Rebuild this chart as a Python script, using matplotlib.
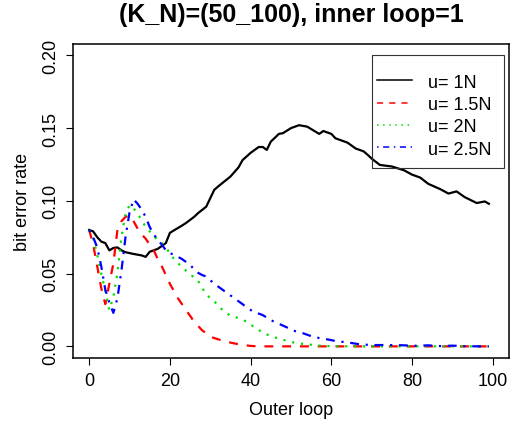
import matplotlib
matplotlib.use("Agg")
import matplotlib.pyplot as plt
from matplotlib.lines import Line2D
from matplotlib.patches import Rectangle

plt.rcParams['font.family'] = ['Liberation Sans', 'DejaVu Sans']

title = "(K_N)=(50_100), inner loop=1"
xlabel = "Outer loop"
ylabel = "bit error rate"
labels = ["u= 1N", "u= 1.5N", "u= 2N", "u= 2.5N"]
xticks = [0, 20, 40, 60, 80, 100]
yticks = [0.00, 0.05, 0.10, 0.15, 0.20]
ytick_labels = ["0.00", "0.05", "0.10", "0.15", "0.20"]

x_1n = [0, 1, 2, 3, 4, 5, 6, 7, 8, 9, 11, 13, 14, 15, 16, 17, 19, 20, 21, 23, 24,
        26, 27, 29, 31, 32, 35, 37, 38, 40, 42, 43, 44, 45, 47, 48, 50, 52, 54, 57,
        58, 60, 61, 64, 66, 68, 69, 70, 72, 75, 78, 80, 82, 84, 87, 89, 91, 93, 96, 98, 99]
y_1n = [0.080, 0.079, 0.075, 0.072, 0.071, 0.066, 0.0676, 0.068, 0.066, 0.0647, 0.0635,
        0.0625, 0.0615, 0.065, 0.066, 0.067, 0.071, 0.078, 0.0797, 0.083, 0.0848,
        0.089, 0.0916, 0.096, 0.1076, 0.110, 0.1167, 0.123, 0.128, 0.133, 0.137,
        0.137, 0.135, 0.1407, 0.146, 0.1465, 0.150, 0.152, 0.151, 0.146,
        0.148, 0.146, 0.143, 0.140, 0.136, 0.134, 0.1316, 0.129, 0.1247, 0.1236,
        0.121, 0.118, 0.116, 0.1117, 0.108, 0.105, 0.1065, 0.1026, 0.0985, 0.0996, 0.098]

x_15n = [0, 1, 2, 3, 4, 5, 6, 7, 8, 9, 10, 11, 12, 13, 14, 15, 16, 17, 18, 19, 20,
         21, 22, 23, 24, 25, 26, 27, 28, 29, 30, 32, 34, 36, 38, 40, 42, 50, 60, 70,
         80, 90, 99]
y_15n = [0.080, 0.070, 0.055, 0.040, 0.029, 0.043, 0.057, 0.080, 0.086, 0.089, 0.090,
         0.086, 0.081, 0.077, 0.074, 0.070, 0.066, 0.060, 0.055, 0.049, 0.043,
         0.038, 0.033, 0.029, 0.025, 0.021, 0.017, 0.014, 0.011, 0.009, 0.0066,
         0.0048, 0.0032, 0.002, 0.001, 0.0003, 0.0, 0.0, 0.0, 0.0,
         0.0, 0.0, 0.0]

x_2n = [0, 1, 2, 3, 4, 5, 6, 7, 8, 9, 10, 11, 12, 13, 14, 15, 16, 17, 18, 19, 20,
        21, 22, 23, 24, 25, 26, 27, 28, 29, 30, 31, 32, 33, 34, 35, 37, 39, 41, 43,
        45, 47, 50, 52, 54, 56, 59, 65, 70, 80, 90, 99]
y_2n = [0.080, 0.074, 0.063, 0.050, 0.038, 0.025, 0.034, 0.050, 0.075, 0.091, 0.097,
        0.095, 0.091, 0.087, 0.082, 0.079, 0.076, 0.073, 0.071, 0.068, 0.064,
        0.060, 0.057, 0.055, 0.052, 0.050, 0.047, 0.045, 0.040, 0.036, 0.033,
        0.031, 0.028, 0.025, 0.023, 0.021, 0.0195, 0.017, 0.013, 0.0095,
        0.007, 0.0053, 0.003, 0.002, 0.0014, 0.0007, 0.0002, 0.0, 0.0, 0.0, 0.0, 0.0]

x_25n = [0, 1, 2, 3, 4, 5, 6, 7, 8, 9, 10, 11, 12, 13, 14, 15, 16, 17, 18, 19, 20,
         21, 22, 23, 24, 25, 26, 27, 28, 29, 30, 31, 32, 33, 34, 35, 36, 37, 38, 39,
         40, 41, 43, 45, 47, 49, 51, 53, 55, 57, 59, 61, 63, 65, 67, 70, 74, 77, 81,
         84, 87, 90, 93, 97, 99]
y_25n = [0.080, 0.075, 0.068, 0.055, 0.039, 0.030, 0.023, 0.033, 0.052, 0.075, 0.092,
         0.101, 0.098, 0.094, 0.089, 0.082, 0.077, 0.073, 0.070, 0.066, 0.064,
         0.063, 0.0615, 0.060, 0.058, 0.056, 0.053, 0.0505, 0.049, 0.048, 0.0455,
         0.043, 0.041, 0.039, 0.037, 0.035, 0.033, 0.031, 0.029, 0.0268,
         0.025, 0.0235, 0.0215, 0.018, 0.0155, 0.013, 0.0105, 0.009, 0.007, 0.0057,
         0.0048, 0.0037, 0.003, 0.0023, 0.0014, 0.0009, 0.0009, 0.0008, 0.0004,
         0.0007, 0.0002, 0.0005, 0.0001, 0.0, 0.0]

colors = ["black", "#FF0000", "#00E000", "#0000FF"]
styles = ["-", (0, (4, 4)), (0, (1, 3)), (0, (1, 3, 4, 3))]
series = [(x_1n, y_1n), (x_15n, y_15n), (x_2n, y_2n), (x_25n, y_25n)]

fig = plt.figure(figsize=(5.12, 4.27), dpi=100)
ax = fig.add_axes([73 / 512, 1 - 359 / 427, (509 - 73) / 512, (359 - 44.7) / 427])

for (xs, ys), c, ls in zip(series, colors, styles):
    ax.plot(xs, ys, color=c, linestyle=ls, linewidth=1.6)

ax.set_xlim(-4, 104)
ax.set_ylim(-0.008, 0.208)
ax.set_xticks(xticks)
ax.set_yticks(yticks)
ax.set_yticklabels(ytick_labels, rotation=90, va='center')
ax.tick_params(direction='out', length=5, width=0.8, labelsize=13, pad=5)
ax.tick_params(axis='y', pad=5)
for s in ax.spines.values():
    s.set_linewidth(1.1)

ax.set_title(title, fontsize=18, fontweight='bold', pad=16)
ax.set_xlabel(xlabel, fontsize=13, labelpad=9)
ax.set_ylabel(ylabel, fontsize=13, labelpad=8)

# legend frame (axes coordinates), transparent like R's legend
ax.add_patch(Rectangle((0.6858, 0.6045), 0.9885 - 0.6858, 0.964 - 0.6045,
                       transform=ax.transAxes, facecolor='none', edgecolor='#333333',
                       linewidth=0.8, zorder=4))
handles = [Line2D([], [], color=c, linestyle=ls, linewidth=1.1) for c, ls in zip(colors, styles)]
leg = ax.legend(handles, labels, loc='upper left', bbox_to_anchor=(0.697, 0.905),
                borderaxespad=0, borderpad=0, fontsize=13, frameon=False,
                handlelength=1.94, handletextpad=0.9, labelspacing=0.3)
leg.set_zorder(5)

fig.savefig("out.png", dpi=100)
